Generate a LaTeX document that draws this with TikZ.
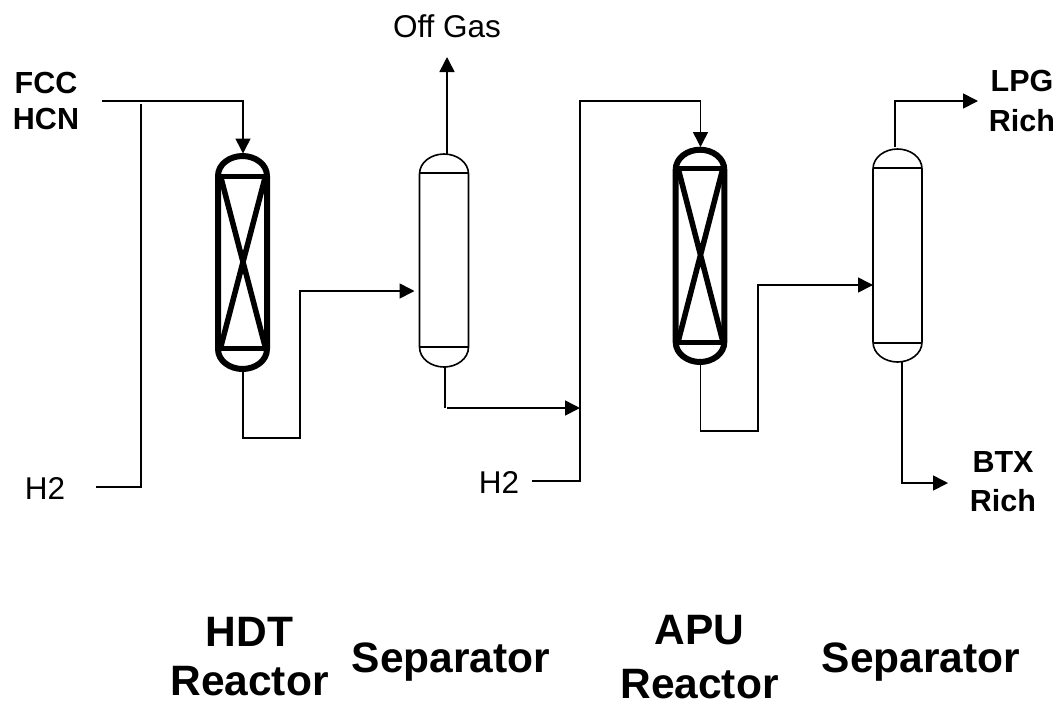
\documentclass[tikz,border=0pt]{standalone}
\usepackage{fontspec}
\setmainfont{Liberation Sans}
\usetikzlibrary{arrows.meta}
\newcommand{\pxfont}[1]{\fontsize{#1}{#1}\selectfont}
\tikzset{
  x=1pt,y=-1pt,
  pipe/.style={line width=1.6pt,line join=miter},
  flow/.style={pipe,-{Triangle[length=15pt,width=15pt]}},
  vesselbox/.style={inner sep=0pt,outer sep=0pt,minimum width=#1,minimum height=216pt},
  thinwall/.style={line width=1.6pt},
  thickwall/.style={line width=6pt},
  small/.style={font=\pxfont{31.5},inner sep=0pt},
  boldsmall/.style={font=\pxfont{30.5}\bfseries,inner sep=0pt,align=center},
  big/.style={font=\pxfont{42.5}\bfseries,inner sep=0pt,align=center},
}
\newcommand{\vesselshape}[5]{% left right top bottom style
  \draw[#5] (#1,#3+20) .. controls (#1,#3+8) and (#1+12,#3) .. ({(#1+#2)/2},#3)
     .. controls (#2-12,#3) and (#2,#3+8) .. (#2,#3+20)
     -- (#2,#4-20) .. controls (#2,#4-8) and (#2-12,#4) .. ({(#1+#2)/2},#4)
     .. controls (#1+12,#4) and (#1,#4-8) .. (#1,#4-20) -- cycle;
}
\begin{document}
\begin{tikzpicture}
\useasboundingbox (0,0) rectangle (1059,702);
% vessels
\node[vesselbox=55pt,minimum height=218pt] (r1) at (243,262.5) {};
\node[vesselbox=49pt,minimum height=213pt] (s1) at (444,260.5) {};
\node[vesselbox=55pt,minimum height=218pt] (r2) at (700.5,256) {};
\node[vesselbox=49pt,minimum height=213pt] (s2) at (897.5,255.5) {};
\vesselshape{218}{267}{156}{369}{thickwall}
\draw[line width=5pt] (217,176)--(269,176) (217,348)--(269,348);
\draw[line width=5.5pt] (220.5,176)--(265.5,348) (265.5,176)--(220.5,348);
\vesselshape{419.5}{468.5}{154}{367}{thinwall}
\draw[thinwall] (419.5,173)--(468.5,173) (419.5,347)--(468.5,347);
\vesselshape{675.7}{724.3}{149.7}{362}{thickwall}
\draw[line width=5pt] (674.5,168)--(726.5,168) (674.5,342)--(726.5,342);
\draw[line width=5.5pt] (678,168)--(723,342) (723,168)--(678,342);
\vesselshape{873}{922}{149}{362}{thinwall}
\draw[thinwall] (873,168)--(922,168) (873,343)--(922,343);
% labels
\node[boldsmall] (fcc) at (46,101) {FCC\\[6pt]HCN};
\node[small] (h2a) at (45,488) {H2};
\node[small] (h2b) at (499,482) {H2};
\node[small] (off) at (447,26) {Off Gas};
\node[boldsmall] (lpg) at (1022,101) {LPG\\[9pt]Rich};
\node[boldsmall] (btx) at (1003,481.5) {BTX\\[9pt]Rich};
\node[big] (t1) at (249.5,656.5) {HDT\\[6pt]Reactor};
\node[big] (t2) at (451,662) {Separator};
\node[big] (t3) at (699.5,657) {APU\\[12pt]Reactor};
\node[big] (t4) at (921,662) {Separator};
% free ends and corners
\coordinate (fin) at (102,101);
\coordinate (ja) at (141,104);
\coordinate (h2ae) at (96,487);
\coordinate (h2be) at (532,481);
\coordinate (jb) at (580,408);
\coordinate (offs) at (447,154);
\coordinate (offe) at (447,57);
\coordinate (s1b) at (445,367);
\coordinate (s1c) at (445,408);
\coordinate (s1d) at (447,408);
\coordinate (s2t) at (895,147);
\coordinate (s2b) at (902,362);
\coordinate (lpge) at (978,101);
\coordinate (btxe) at (948,483);
\coordinate (s1in) at (414.5,291);
\coordinate (s2in) at (873,285);
\coordinate (c1) at (300,438);
\coordinate (c2) at (758,431);
\coordinate (c3) at (580,101);
% connectors
\draw[flow] (fin) -| (r1.north);
\draw[pipe] (h2ae) -| (ja);
\draw[flow] (r1.south) |- (c1) |- (s1in);
\draw[flow] (offs) -- (offe);
\draw[pipe] (s1b) -- (s1c);
\draw[flow] (s1d) -- (jb);
\draw[flow] (h2be) -| (c3) -| (r2.north);
\draw[flow] (r2.south) |- (c2) |- (s2in);
\draw[flow] (s2t) |- (lpge);
\draw[flow] (s2b) |- (btxe);
\end{tikzpicture}
\end{document}
